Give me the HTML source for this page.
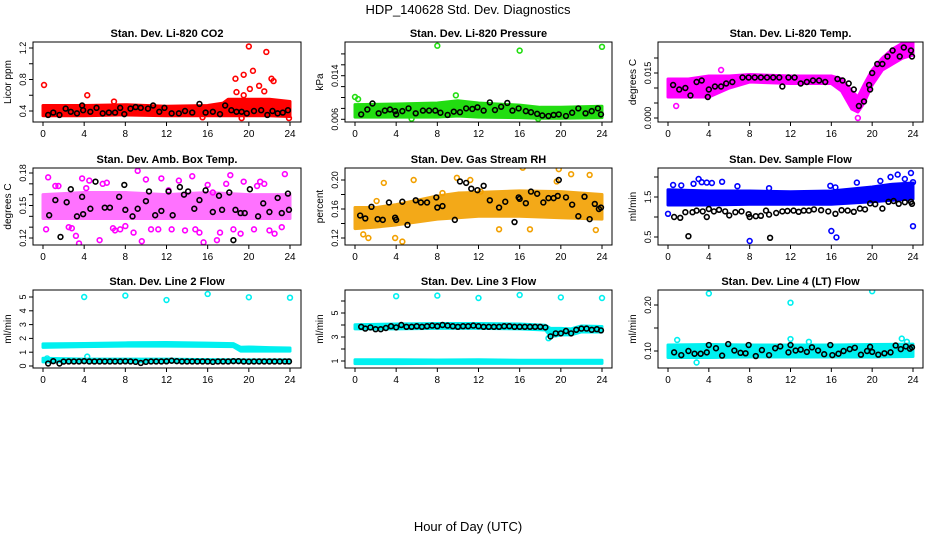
<!DOCTYPE html>
<html><head><meta charset="utf-8"><style>
html,body{margin:0;padding:0;background:#fff;}
svg{display:block;font-family:"Liberation Sans",sans-serif;}
</style></head><body>
<svg id="fig" width="936" height="540" viewBox="0 0 936 540">
<text x="468" y="14" text-anchor="middle" font-size="13">HDP_140628  Std. Dev. Diagnostics</text>
<text x="468" y="531" text-anchor="middle" font-size="13">Hour of Day (UTC)</text>
</svg>
<script>
// ---- data arrays (one set per panel) ----
const xTicks = [0,4,8,12,16,20,24];

const p1BandX = [0,4,8,12,16,17.5,18,20,22,24];
const p1BandLo = [0.34,0.34,0.35,0.34,0.34,0.34,0.34,0.34,0.34,0.33];
const p1BandHi = [0.47,0.47,0.48,0.46,0.47,0.50,0.55,0.55,0.55,0.52];
const p1OutX = [0.1,4.3,6.9,18.7,18.8,19.5,19.5,20,20.1,20.4,21,21.5,21.7,22.2,22.4,15.5,19.3,23.9];
const p1OutY = [0.73,0.6,0.52,0.81,0.64,0.86,0.6,1.22,0.68,0.91,0.72,0.65,1.15,0.81,0.78,0.32,0.31,0.31];
const p1BlkX = [0.5,1,1.6,2.2,2.7,3.3,3.8,3.9,4.6,5.2,5.8,6.4,7,7.5,7.9,8.5,9,9.5,10.2,10.7,11.3,11.8,12.5,13.2,13.8,14.5,15.2,15.8,16.5,17.2,17.7,18.3,18.8,19.3,19.8,20.5,21.2,21.8,22.3,22.8,23.3,23.8];
const p1BlkY = [0.35,0.38,0.35,0.43,0.39,0.37,0.47,0.41,0.39,0.44,0.37,0.38,0.38,0.44,0.36,0.43,0.45,0.44,0.43,0.47,0.39,0.44,0.37,0.37,0.4,0.38,0.49,0.38,0.39,0.36,0.47,0.41,0.39,0.39,0.37,0.4,0.41,0.35,0.4,0.37,0.38,0.41];

const p2BandX = [0,4,8,10,12,16,18,20,24];
const p2BandLo = [0.0064,0.0064,0.0064,0.0066,0.0064,0.0063,0.0062,0.0062,0.0063];
const p2BandHi = [0.0087,0.0088,0.0090,0.0094,0.0090,0.0086,0.0082,0.0082,0.0084];
const p2OutX = [8,16,24,0,0.3,9.8,5.5,17.8];
const p2OutY = [0.0195,0.0186,0.0193,0.0101,0.0097,0.0104,0.0061,0.0061];
const p2BlkX = [0.6,1.2,1.7,2.3,2.9,3.4,3.9,4,4.6,5.2,5.9,6.6,7.2,7.8,8.3,9,9.6,10.2,10.8,11.4,11.9,12.5,13.1,13.6,14.2,14.8,15.3,15.9,16.6,17.1,17.7,18.2,18.8,19.3,19.8,20.5,21.1,21.7,22.4,23,23.6,23.9];
const p2BlkY = [0.0069,0.0078,0.0089,0.0071,0.0076,0.0078,0.0075,0.0069,0.0075,0.0080,0.0071,0.0076,0.0076,0.0076,0.0072,0.0068,0.0074,0.0073,0.0080,0.0079,0.0082,0.0076,0.0091,0.0077,0.0083,0.0090,0.0076,0.0080,0.0075,0.0073,0.0070,0.0067,0.0066,0.0068,0.0069,0.0066,0.0072,0.0080,0.0071,0.0075,0.0080,0.0069];

const p3BandX = [0,2,4,6,8,12,16,17,18,18.6,19.2,20,21,22,23,24];
const p3BandLo = [0.007,0.007,0.007,0.010,0.012,0.0115,0.0115,0.009,0.003,0.002,0.005,0.011,0.016,0.018,0.020,0.021];
const p3BandHi = [0.013,0.013,0.014,0.014,0.0145,0.014,0.014,0.013,0.009,0.007,0.011,0.016,0.020,0.023,0.025,0.025];
const p3OutX = [0.8,18.6,5.2];
const p3OutY = [0.004,0.0,0.016];
const p3BlkX = [0.5,1.1,1.7,2.2,2.8,3.3,3.9,4,4.6,5.2,5.7,6.3,7.3,7.9,8.5,9.1,9.7,10.3,10.9,11.2,11.8,12.4,13,13.6,14.2,14.8,15.4,16.6,17.1,17.7,18.2,18.7,19.2,19.7,19.8,20,20.5,21,21.5,22,22.7,23.1,23.8,23.9];
const p3BlkY = [0.011,0.0095,0.010,0.0075,0.012,0.0125,0.007,0.0095,0.0105,0.0105,0.0115,0.012,0.0135,0.0135,0.0135,0.0135,0.0135,0.0135,0.0135,0.0105,0.0135,0.0135,0.0115,0.012,0.0125,0.0125,0.012,0.013,0.0125,0.0115,0.0095,0.004,0.0055,0.011,0.0095,0.015,0.018,0.018,0.0205,0.0225,0.0205,0.0235,0.0225,0.0205];

const p4BandX = [0,4,8,12,16,20,24];
const p4BandLo = [0.138,0.138,0.138,0.138,0.138,0.138,0.138];
const p4BandHi = [0.160,0.162,0.162,0.160,0.162,0.160,0.160];
const p4OutX = [0.5,1.2,2.5,3.2,3.8,4.5,5.5,6.2,7,8,9.2,10.5,11.5,12.5,13.8,14.5,15.2,16.5,17.8,18.5,19.5,20.5,21.5,22.5,23.5,0.3,1.5,2.8,4.2,5.8,7.5,8.8,10,11.2,12.2,13.2,14.8,16,17.2,18.2,19.2,20.8,22,23.2,3.5,9.6,15.6,21.1,6.8,16.9];
const p4OutY = [0.176,0.168,0.130,0.122,0.175,0.173,0.118,0.171,0.127,0.131,0.182,0.128,0.175,0.128,0.127,0.177,0.125,0.162,0.170,0.128,0.172,0.128,0.170,0.124,0.179,0.128,0.168,0.129,0.166,0.170,0.128,0.125,0.174,0.128,0.164,0.173,0.128,0.169,0.125,0.178,0.124,0.168,0.127,0.130,0.115,0.117,0.116,0.172,0.129,0.118];
const p4BlkX = [0.6,1.2,1.7,2.3,2.7,3.3,3.8,3.9,4.6,5.1,6,6.5,7.4,7.9,8,8.7,9.2,10,10.3,10.9,11.5,12.2,12.6,13.3,13.7,14.1,14.7,15.2,15.8,16.5,17.1,17.4,18.1,18.5,18.7,19.2,19.6,20.1,20.9,21.4,22,22.8,23.2,23.8,23.9];
const p4BlkY = [0.141,0.155,0.121,0.153,0.165,0.140,0.158,0.142,0.147,0.172,0.148,0.148,0.158,0.169,0.146,0.140,0.147,0.154,0.163,0.141,0.145,0.163,0.141,0.167,0.160,0.163,0.147,0.155,0.164,0.144,0.159,0.146,0.162,0.118,0.146,0.143,0.143,0.165,0.140,0.152,0.144,0.157,0.143,0.161,0.146];

const p5BandX = [0,2,4,6,8,10,12,16,20,24];
const p5BandLo = [0.133,0.135,0.138,0.142,0.146,0.148,0.150,0.150,0.148,0.146];
const p5BandHi = [0.162,0.162,0.166,0.172,0.178,0.182,0.183,0.185,0.184,0.180];
const p5OutX = [0.8,2.1,2.8,3.9,4.6,5.7,8.5,9.9,11.2,12.2,16.3,19.6,21,22.8,1.3,19.8,23.4,14,17];
const p5OutY = [0.125,0.171,0.196,0.120,0.115,0.200,0.182,0.203,0.200,0.184,0.217,0.198,0.208,0.207,0.120,0.215,0.131,0.132,0.132];
const p5BlkX = [0.5,1,1.6,2.2,2.7,3.3,3.9,4,4.6,5.1,5.9,6.4,7,7.9,8,8.5,9.7,10.2,10.8,11.3,11.9,12.5,13.1,14,14.6,15.5,15.9,16,16.6,17.1,17.7,18.3,18.8,19.3,19.7,19.8,20.5,21.1,21.7,22.3,22.8,23.3,23.7,23.9];
const p5BlkY = [0.151,0.147,0.163,0.146,0.145,0.169,0.148,0.145,0.170,0.138,0.172,0.169,0.169,0.176,0.162,0.164,0.145,0.198,0.196,0.188,0.186,0.192,0.172,0.162,0.170,0.142,0.176,0.174,0.168,0.184,0.181,0.169,0.175,0.175,0.178,0.200,0.176,0.166,0.150,0.177,0.146,0.167,0.160,0.162];

const p6BandX = [0,4,8,12,16,18,20,22,24];
const p6BandLo = [1.30,1.30,1.32,1.32,1.32,1.35,1.38,1.42,1.45];
const p6BandHi = [1.68,1.65,1.65,1.63,1.65,1.70,1.75,1.82,1.85];
const p6OutX = [0,0.5,1.3,2.5,3,3.3,3.8,4.3,5.3,6.8,9.9,15.9,16.4,18.5,20.8,22.5,23.2,23.8,24,8,16,16.5,24,21.8];
const p6OutY = [1.08,1.80,1.79,1.83,1.95,1.87,1.86,1.85,1.88,1.77,1.72,1.78,1.74,1.86,1.90,2.06,1.95,2.10,1.87,0.40,0.65,0.49,0.77,2.00];
const p6BlkX = [0.6,1.2,1.7,2.4,2.8,3.4,3.8,4,4.5,5,5.6,6,6.6,7.2,7.9,8,8.6,9.1,9.6,9.9,10.6,11.2,11.7,12.3,12.8,13.3,13.8,14.3,15,15.7,16.4,17,17.6,18.2,18.8,19.3,19.8,20.3,21,21.6,22.1,22.6,23.2,23.8,23.9,2,10];
const p6BlkY = [1.00,0.98,1.12,1.12,1.16,1.14,1.00,1.20,1.14,1.18,1.14,1.04,1.12,1.14,1.07,1.00,1.02,1.03,1.16,1.06,1.10,1.14,1.15,1.16,1.13,1.16,1.16,1.19,1.17,1.14,1.08,1.17,1.16,1.13,1.21,1.19,1.34,1.32,1.21,1.38,1.40,1.33,1.37,1.38,1.33,0.52,0.48];

const p7BandX = [0,4,8,12,16,18.5,19.2,20,22,24];
const p7BandLo = [1.35,1.40,1.44,1.44,1.42,1.40,1.08,1.08,1.08,1.08];
const p7BandHi = [1.60,1.63,1.68,1.70,1.66,1.62,1.36,1.38,1.33,1.30];
const p7LowX = [0,4,8,12,16,20,24];
const p7LowLo = [0.30,0.30,0.30,0.30,0.30,0.30,0.30];
const p7LowHi = [0.56,0.50,0.50,0.50,0.46,0.44,0.44];
const p7OutX = [4,8,12,16,20,24,4.3,0.4];
const p7OutY = [5.0,5.1,4.78,5.22,4.98,4.95,0.68,0.55];
const p7BlkX = [0.5,1,1.6,2,2.5,3,3.5,4,4.5,5,5.5,6,6.5,7,7.5,8,8.5,9,9.5,10,10.5,11,11.5,12,12.5,13,13.5,14,14.5,15,15.5,16,16.5,17,17.5,18,18.5,19,19.5,20,20.5,21,21.5,22,22.5,23,23.5,23.9];
const p7BlkY = [0.18,0.35,0.18,0.32,0.33,0.33,0.33,0.35,0.33,0.33,0.33,0.33,0.33,0.33,0.33,0.34,0.33,0.30,0.22,0.30,0.33,0.33,0.33,0.34,0.38,0.35,0.33,0.33,0.33,0.33,0.33,0.33,0.30,0.33,0.33,0.33,0.35,0.35,0.33,0.32,0.33,0.33,0.33,0.33,0.33,0.33,0.33,0.33];

const p8BandX = [0,4,8,12,16,18.5,19,19.5,20,21,22,24];
const p8BandLo = [3.68,3.68,3.72,3.72,3.68,3.58,3.08,3.08,3.18,3.18,3.42,3.42];
const p8BandHi = [4.02,4.08,4.12,4.12,4.08,3.98,3.72,3.72,3.72,3.68,3.92,3.88];
const p8LowX = [0,4,8,12,16,20,24];
const p8LowLo = [0.78,0.78,0.8,0.8,0.8,0.8,0.8];
const p8LowHi = [1.1,1.1,1.08,1.1,1.06,1.06,1.06];
const p8OutX = [4,8,12,16,20,24,18.8];
const p8OutY = [6.4,6.45,6.25,6.5,6.3,6.25,2.9];
const p8BlkX = [0.6,1,1.5,2,2.5,3,3.5,4,4.5,5,5.5,6,6.5,7,7.5,8,8.5,9,9.5,10,10.5,11,11.5,12,12.5,13,13.5,14,14.5,15,15.5,16,16.5,17,17.5,18,18.5,19,19.5,20,20.5,21,21.5,22,22.5,23,23.5,23.9];
const p8BlkY = [3.85,3.7,3.8,3.65,3.65,3.75,3.9,3.8,4.0,3.85,3.85,3.9,3.85,3.9,3.95,3.9,4.0,3.95,3.9,3.85,3.9,3.9,3.95,3.9,3.85,3.85,3.85,3.85,3.9,3.9,3.85,3.85,3.85,3.85,3.85,3.85,3.8,3.05,3.3,3.3,3.5,3.3,3.6,3.7,3.7,3.6,3.65,3.55];

const p9BandX = [0,4,8,12,16,20,24];
const p9BandLo = [0.086,0.086,0.087,0.087,0.087,0.087,0.088];
const p9BandHi = [0.113,0.114,0.113,0.113,0.113,0.114,0.115];
const p9OutX = [4,12,20,2.8,0.9,12,22.9,23.4,13.8];
const p9OutY = [0.225,0.205,0.23,0.075,0.124,0.126,0.127,0.12,0.12];
const p9BlkX = [0.6,1.3,2,2.6,3.2,3.8,4,4.7,5.3,5.9,6.5,7.1,7.6,7.9,8.6,9.2,9.9,10.5,11,11.8,12,12.5,13,13.6,14.1,14.7,15.3,15.9,16.1,16.7,17.2,17.8,18.3,18.9,19.5,19.8,20,20.6,21.2,21.8,22.3,22.8,23.3,23.7,23.9];
const p9BlkY = [0.097,0.091,0.100,0.094,0.094,0.097,0.113,0.106,0.090,0.115,0.101,0.096,0.095,0.113,0.089,0.102,0.091,0.106,0.110,0.097,0.113,0.101,0.103,0.098,0.108,0.101,0.093,0.113,0.091,0.094,0.100,0.104,0.107,0.092,0.100,0.109,0.098,0.092,0.095,0.097,0.112,0.104,0.110,0.105,0.108];

// ---- layout ----
const cols = [{b0:33,b1:301,x0:43,x24:290},{b0:345,b1:612,x0:355,x24:602},{b0:658,b1:923,x0:668,x24:913}];
const rows = [{t:42,b:122},{t:168,b:245},{t:290,b:368}];
const panels = [
 {r:0,c:0,title:"Stan. Dev. Li-820 CO2",ylab:"Licor ppm",col:"#ff0000",yv:[0.4,111,1.2,48],yt:[0.4,0.6,0.8,1.0,1.2],yl:["0.4","","0.8","","1.2"],bx:p1BandX,lo:p1BandLo,hi:p1BandHi,ox:p1OutX,oy:p1OutY,kx:p1BlkX,ky:p1BlkY},
 {r:0,c:1,title:"Stan. Dev. Li-820 Pressure",ylab:"kPa",col:"#22dd11",yv:[0.006,119.3,0.014,75.7],yt:[0.006,0.008,0.010,0.012,0.014,0.016,0.018],yl:["0.006","","","","0.014","",""],bx:p2BandX,lo:p2BandLo,hi:p2BandHi,ox:p2OutX,oy:p2OutY,kx:p2BlkX,ky:p2BlkY},
 {r:0,c:2,title:"Stan. Dev. Li-820 Temp.",ylab:"degrees C",col:"#ff00ff",yv:[0,118,0.015,73],yt:[0,0.005,0.010,0.015,0.020],yl:["0.000","","","0.015",""],bx:p3BandX,lo:p3BandLo,hi:p3BandHi,ox:p3OutX,oy:p3OutY,kx:p3BlkX,ky:p3BlkY},
 {r:1,c:0,title:"Stan. Dev. Amb. Box Temp.",ylab:"degrees C",col:"#ff00ff",op:0.55,yv:[0.12,238,0.18,173],yt:[0.12,0.13,0.14,0.15,0.16,0.17,0.18],yl:["0.12","","","0.15","","","0.18"],bx:p4BandX,lo:p4BandLo,hi:p4BandHi,ox:p4OutX,oy:p4OutY,kx:p4BlkX,ky:p4BlkY},
 {r:1,c:1,title:"Stan. Dev. Gas Stream RH",ylab:"percent",col:"#f2a000",op:0.9,yv:[0.12,238,0.20,180],yt:[0.12,0.14,0.16,0.18,0.20],yl:["0.12","","0.16","","0.20"],bx:p5BandX,lo:p5BandLo,hi:p5BandHi,ox:p5OutX,oy:p5OutY,kx:p5BlkX,ky:p5BlkY},
 {r:1,c:2,title:"Stan. Dev. Sample Flow",ylab:"ml/min",col:"#0000ff",yv:[0.5,237,1.5,197],yt:[0.5,1.0,1.5,2.0],yl:["0.5","","1.5",""],bx:p6BandX,lo:p6BandLo,hi:p6BandHi,ox:p6OutX,oy:p6OutY,kx:p6BlkX,ky:p6BlkY},
 {r:2,c:0,title:"Stan. Dev. Line 2 Flow",ylab:"ml/min",col:"#00f0f0",yv:[0,366,5,297],yt:[0,1,2,3,4,5],yl:["0","1","2","3","4","5"],bx:p7BandX,lo:p7BandLo,hi:p7BandHi,lx:p7LowX,llo:p7LowLo,lhi:p7LowHi,ox:p7OutX,oy:p7OutY,kx:p7BlkX,ky:p7BlkY},
 {r:2,c:1,title:"Stan. Dev. Line 3 Flow",ylab:"ml/min",col:"#00f0f0",yv:[1,361,5,313],yt:[1,2,3,4,5,6],yl:["1","","3","","5",""],bx:p8BandX,lo:p8BandLo,hi:p8BandHi,lx:p8LowX,llo:p8LowLo,lhi:p8LowHi,ox:p8OutX,oy:p8OutY,kx:p8BlkX,ky:p8BlkY},
 {r:2,c:2,title:"Stan. Dev. Line 4 (LT) Flow",ylab:"ml/min",col:"#00f0f0",yv:[0.10,351,0.20,305],yt:[0.10,0.15,0.20],yl:["0.10","","0.20"],bx:p9BandX,lo:p9BandLo,hi:p9BandHi,ox:p9OutX,oy:p9OutY,kx:p9BlkX,ky:p9BlkY}
];

const NS = "http://www.w3.org/2000/svg";
const svg = document.getElementById("fig");
function mk(tag, attrs, parent, txt){
  const e = document.createElementNS(NS, tag);
  for (const k in attrs) e.setAttribute(k, attrs[k]);
  if (txt !== undefined) e.textContent = txt;
  parent.appendChild(e);
  return e;
}

panels.forEach((p, i) => {
  const C = cols[p.c], R = rows[p.r];
  const xs = h => C.x0 + (C.x24 - C.x0) * h / 24;
  const ys = v => p.yv[1] + (v - p.yv[0]) * (p.yv[3] - p.yv[1]) / (p.yv[2] - p.yv[0]);
  const g = mk("g", {}, svg);
  
  
  const clip = mk("clipPath", {id: "cp" + i}, g);
  mk("rect", {x: C.b0, y: R.t, width: C.b1 - C.b0, height: R.b - R.t}, clip);
  const t = mk("text", {x: (C.b0 + C.b1) / 2, y: R.t - 5, "text-anchor": "middle", "font-size": "11", "font-weight": "bold"}, g, p.title);
  
  
  const data = mk("g", {"clip-path": "url(#cp" + i + ")"}, g);
  
  
  const band = (bx, lo, hi) => {
    let pts = bx.map((h, k) => xs(h) + "," + ys(hi[k]));
    for (let k = bx.length - 1; k >= 0; k--) pts.push(xs(bx[k]) + "," + ys(lo[k]));
    const pg = mk("polygon", {points: pts.join(" "), fill: p.col, stroke: p.col, "stroke-width": "3", "stroke-linejoin": "round", opacity: p.op || 1}, data);
    
    
  };
  band(p.bx, p.lo, p.hi);
  if (p.lx) band(p.lx, p.llo, p.lhi);
  p.ox.forEach((h, k) => {
    const c = mk("circle", {cx: xs(h), cy: ys(p.oy[k]), r: 2.4, fill: "none", stroke: p.col, "stroke-width": 1.6}, data);
    
    
  });
  p.kx.forEach((h, k) => {
    const c = mk("circle", {cx: xs(h), cy: ys(p.ky[k]), r: 2.4, fill: "none", stroke: "#000", "stroke-width": 1.6}, data);
    
    
  });
  const box = mk("rect", {x: C.b0, y: R.t, width: C.b1 - C.b0, height: R.b - R.t, fill: "none", stroke: "#000", "stroke-width": 1}, g);
  
  
  const xa = mk("g", {}, g);
  
  
  mk("line", {x1: xs(0), x2: xs(24), y1: R.b, y2: R.b, stroke: "#000"}, xa);
  xTicks.forEach(h => {
    mk("line", {x1: xs(h), x2: xs(h), y1: R.b, y2: R.b + 4, stroke: "#000"}, xa);
    const l = mk("text", {x: xs(h), y: R.b + 15, "text-anchor": "middle", "font-size": "10"}, xa, String(h));
    
    
  });
  const ya = mk("g", {}, g);
  
  
  const yt0 = ys(p.yt[0]), yt1 = ys(p.yt[p.yt.length - 1]);
  mk("line", {x1: C.b0, x2: C.b0, y1: yt0, y2: yt1, stroke: "#000"}, ya);
  p.yt.forEach((v, k) => {
    const y = ys(v);
    mk("line", {x1: C.b0 - 4, x2: C.b0, y1: y, y2: y, stroke: "#000"}, ya);
    if (p.yl[k]) {
      const l = mk("text", {x: C.b0 - 7, y: y, "text-anchor": "middle", "font-size": "9", transform: "rotate(-90 " + (C.b0 - 7) + " " + y + ")"}, ya, p.yl[k]);
      
      
    }
  });
  const ym = (R.t + R.b) / 2;
  const yl = mk("text", {x: C.b0 - 22, y: ym, "text-anchor": "middle", "font-size": "10", transform: "rotate(-90 " + (C.b0 - 22) + " " + ym + ")"}, g, p.ylab);
  
  
});
</script>
</body></html>
